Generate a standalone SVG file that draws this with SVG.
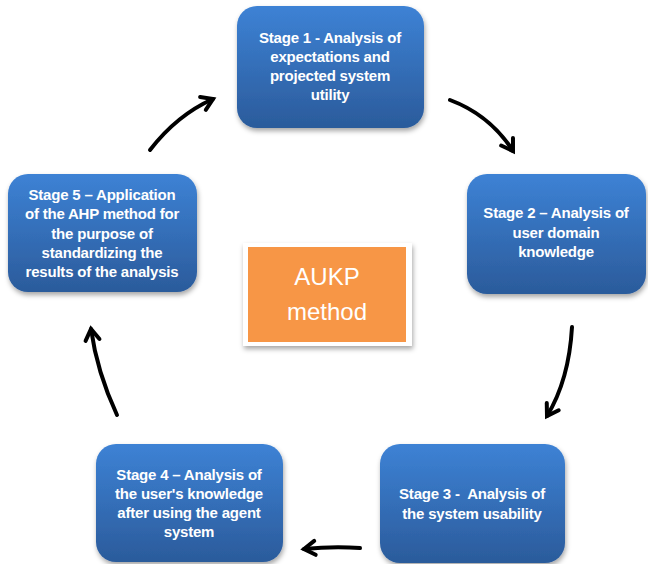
<svg xmlns="http://www.w3.org/2000/svg" width="648" height="564" viewBox="0 0 648 564">
<defs>
<linearGradient id="blue" x1="0" y1="0" x2="0" y2="1">
<stop offset="0" stop-color="#3d82d5"/>
<stop offset="1" stop-color="#2b5b9b"/>
</linearGradient>
<filter id="sh" x="-10%" y="-10%" width="120%" height="125%">
<feDropShadow dx="1" dy="3" stdDeviation="2.5" flood-color="#000" flood-opacity="0.35"/>
</filter>
<marker id="ah" viewBox="0 0 20 20" refX="15" refY="10" markerWidth="20" markerHeight="20" markerUnits="userSpaceOnUse" orient="auto">
<path d="M4,3 L15,10 L4,17" fill="none" stroke="#000" stroke-width="4" stroke-linecap="round" stroke-linejoin="miter"/>
</marker>
</defs>
<style>
.box{fill:url(#blue);filter:url(#sh);}
.t{font-family:"Liberation Sans",Arial,sans-serif;font-weight:bold;font-size:15px;fill:#fff;text-anchor:middle;letter-spacing:-0.2px;}
.c{font-family:"Liberation Sans",Arial,sans-serif;font-size:24px;fill:#fff;text-anchor:middle;}
.a{fill:none;stroke:#000;stroke-width:4;stroke-linecap:round;marker-end:url(#ah);}
</style>
<rect width="648" height="564" fill="#fff"/>
<g id="stage1">
<rect class="box" x="237" y="6" width="187" height="122" rx="20"/>
<text class="t" x="330" y="43">Stage 1 - Analysis of</text>
<text class="t" x="330" y="62">expectations and</text>
<text class="t" x="330" y="81">projected system</text>
<text class="t" x="330" y="100">utility</text>
</g>
<g id="stage2">
<rect class="box" x="467" y="174" width="179" height="120" rx="20"/>
<text class="t" x="556" y="218">Stage 2 – Analysis of</text>
<text class="t" x="556" y="238">user domain</text>
<text class="t" x="556" y="257">knowledge</text>
</g>
<g id="stage3">
<rect class="box" x="380" y="444" width="185" height="119" rx="20"/>
<text class="t" x="472" y="499">Stage 3 -&#160; Analysis of</text>
<text class="t" x="472" y="519">the system usability</text>
</g>
<g id="stage4">
<rect class="box" x="96" y="444" width="187" height="118" rx="20"/>
<text class="t" x="189" y="480">Stage 4 – Analysis of</text>
<text class="t" x="189" y="499">the user's knowledge</text>
<text class="t" x="189" y="518">after using the agent</text>
<text class="t" x="189" y="537">system</text>
</g>
<g id="stage5">
<rect class="box" x="8" y="174" width="189" height="118" rx="20"/>
<text class="t" x="102" y="200">Stage 5 – Application</text>
<text class="t" x="102" y="219">of the AHP method for</text>
<text class="t" x="102" y="239">the purpose of</text>
<text class="t" x="102" y="258">standardizing the</text>
<text class="t" x="102" y="277">results of the analysis</text>
</g>
<g id="center">
<rect x="243" y="243" width="169" height="103" fill="#fff" filter="url(#sh)"/>
<rect x="248" y="247" width="158" height="95" fill="#f79646"/>
<text class="c" x="327" y="285">AUKP</text>
<text class="c" x="327" y="320">method</text>
</g>
<g id="connectors">
<path class="a" d="M450,100 Q490,115 513,151"/>
<path class="a" d="M572,327 Q569,380 547,416"/>
<path class="a" d="M360,548 Q333,546 304,549"/>
<path class="a" d="M117,415 Q97,372 91,329"/>
<path class="a" d="M150,150 Q177,115 213,99"/>
</g>
</svg>
